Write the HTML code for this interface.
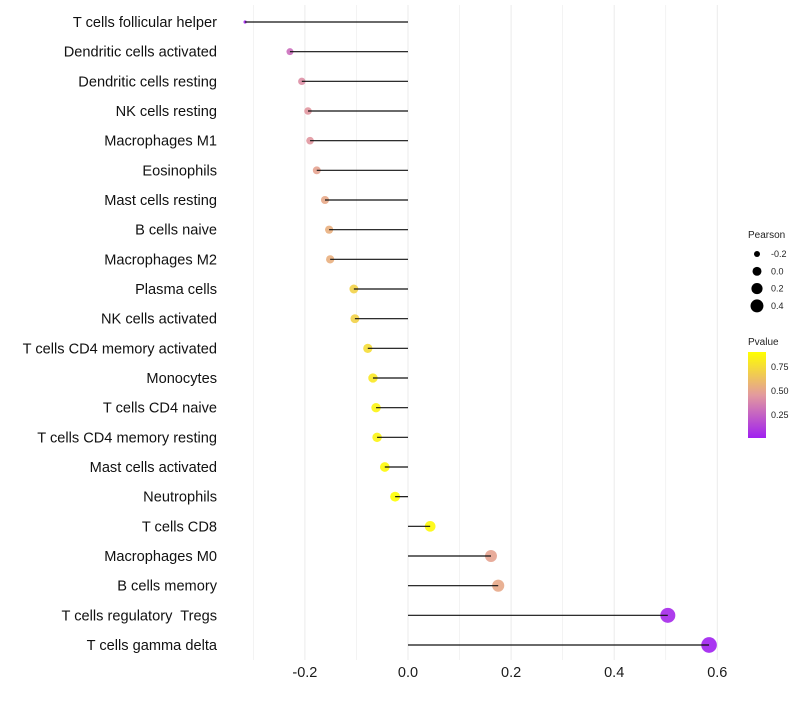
<!DOCTYPE html>
<html><head><meta charset="utf-8"><style>
body{margin:0;background:#fff;font-family:"Liberation Sans",sans-serif}
text{white-space:pre}
</style></head><body>
<svg id="chart" width="800" height="700" xmlns="http://www.w3.org/2000/svg">
<defs><linearGradient id="pg" x1="0" y1="1" x2="0" y2="0">
<stop offset="0" stop-color="#A020F0"/><stop offset="0.5" stop-color="#E39A9E"/><stop offset="1" stop-color="#FFFF00"/></linearGradient></defs>
<g id="grid"></g><g id="marks"></g><g id="labels"></g>
<g font-size="9" fill="#222">
<text x="748" y="238" font-size="10">Pearson</text>
<g id="sizeLegend"></g>
<text x="748" y="345" font-size="10">Pvalue</text>
<rect x="748" y="352" width="18" height="86" fill="url(#pg)"/>
<text x="771" y="370">0.75</text>
<text x="771" y="394">0.50</text>
<text x="771" y="418">0.25</text>
</g>
</svg>
<script>
const categories=["T cells follicular helper","Dendritic cells activated","Dendritic cells resting","NK cells resting","Macrophages M1","Eosinophils","Mast cells resting","B cells naive","Macrophages M2","Plasma cells","NK cells activated","T cells CD4 memory activated","Monocytes","T cells CD4 naive","T cells CD4 memory resting","Mast cells activated","Neutrophils","T cells CD8","Macrophages M0","B cells memory","T cells regulatory  Tregs","T cells gamma delta"];
const pearson=[-0.316,-0.229,-0.206,-0.194,-0.19,-0.177,-0.161,-0.153,-0.151,-0.105,-0.103,-0.078,-0.068,-0.062,-0.06,-0.045,-0.025,0.043,0.161,0.175,0.504,0.584];
const pvalue=[0.03,0.3,0.42,0.45,0.45,0.5,0.52,0.55,0.55,0.7,0.7,0.75,0.8,0.85,0.85,0.88,0.9,0.88,0.5,0.52,0.05,0.02];
const xTicks=[-0.2,0,0.2,0.4,0.6];
const xTickLabels=["-0.2","0.0","0.2","0.4","0.6"];
const sizeLegendVals=[-0.2,0,0.2,0.4];
const NS="http://www.w3.org/2000/svg";
const X=v=>408+v*515.5;
const Y=i=>22+i*(623/(categories.length-1));
const R=v=>v<-0.3?1.6:Math.sqrt(14+60*(v+0.2));
const RL=v=>Math.sqrt(20+55*v);
function lerp(a,b,t){return a.map((c,i)=>Math.round(c+(b[i]-c)*t));}
function col(p){const t=Math.min(1,Math.max(0,(p-0.02)/0.88));const A=[160,32,240],M=[227,154,158],B=[255,255,0];
const c=t<0.5?lerp(A,M,t/0.5):lerp(M,B,(t-0.5)/0.5);return `rgb(${c})`;}
function mk(tag,attrs,parent){const e=document.createElementNS(NS,tag);for(const k in attrs)e.setAttribute(k,attrs[k]);parent.appendChild(e);return e;}
const grid=document.getElementById('grid'),marks=document.getElementById('marks'),labels=document.getElementById('labels');
for(let v=-0.3;v<=0.65;v+=0.1){const g=mk('line',{x1:X(v),x2:X(v),y1:5,y2:660,stroke:'#ebebeb','stroke-width':Math.abs(Math.round(v*10))%2===0?1:0.6},grid);

}
xTicks.forEach((v,i)=>{const t=mk('text',{x:X(v),y:677,'text-anchor':'middle','font-size':14.5,fill:'#1a1a1a'},labels);t.textContent=xTickLabels[i];

});
categories.forEach((c,i)=>{const y=Y(i);
const p=mk('circle',{cx:X(pearson[i]),cy:y,r:R(pearson[i]),fill:col(pvalue[i]),'fill-opacity':0.9},marks);


const l=mk('line',{x1:X(0),x2:X(pearson[i]),y1:y,y2:y,stroke:'#111','stroke-width':1.2},marks);


const t=mk('text',{x:217,y:y+5,'text-anchor':'end','font-size':14.6,fill:'#111'},labels);t.textContent=c;

});
const sl=document.getElementById('sizeLegend');
sizeLegendVals.forEach((v,i)=>{const y=254+i*17.3;
const c=mk('circle',{cx:757,cy:y,r:RL(v),fill:'#000'},sl);


const t=mk('text',{x:771,y:y+3,'font-size':9},sl);t.textContent=v===0?"0.0":v.toFixed(1);

});
</script>
</body></html>
